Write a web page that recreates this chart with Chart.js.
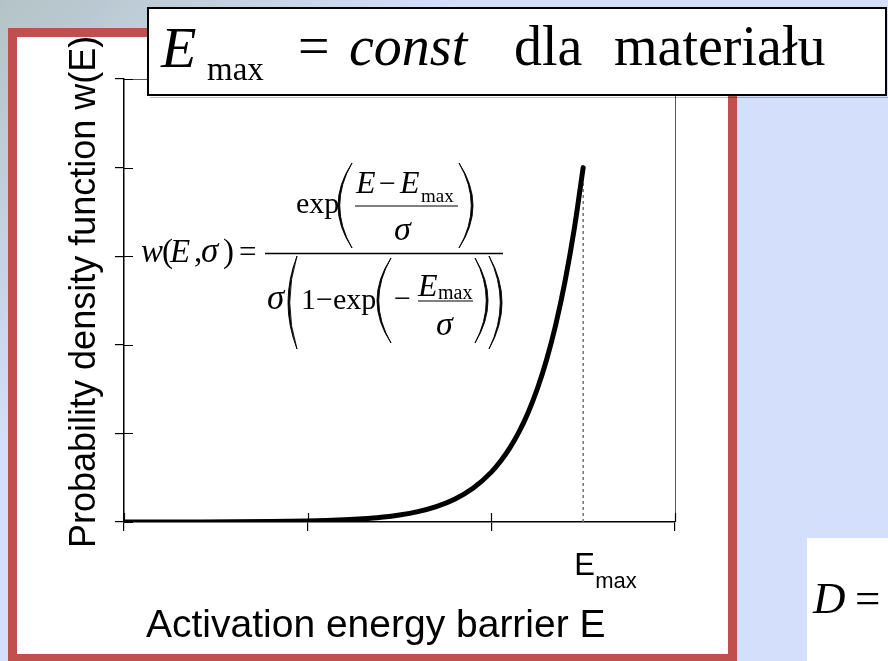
<!DOCTYPE html>
<html>
<head>
<meta charset="utf-8">
<title>Activation energy distribution</title>
<script src="https://cdn.jsdelivr.net/npm/chart.js@4/dist/chart.umd.min.js"></script>
<style>
  html, body { margin: 0; padding: 0; background: #d4dffc; }
  #wrap { position: relative; width: 888px; height: 661px; overflow: hidden; }
  canvas { display: block; }
</style>
</head>
<body>
<div id="wrap"><canvas id="chart" width="888" height="661"></canvas></div>
<script>
// Activation energy barrier E (axis units) and probability density w(E)
const energy  = [0, 0.2, 0.4, 0.6, 0.8, 0.9, 1.0, 1.1, 1.2, 1.3, 1.4, 1.5, 1.6, 1.7, 1.8, 1.9, 2.0, 2.05, 2.1, 2.15, 2.2, 2.25, 2.3, 2.35, 2.4, 2.45, 2.5];
const density = [0.0002, 0.0005, 0.0011, 0.0023, 0.0051, 0.0075, 0.0112, 0.0165, 0.0244, 0.0362, 0.0535, 0.0792, 0.1173, 0.1736, 0.2570, 0.3804, 0.5630, 0.6850, 0.8333, 1.0138, 1.2334, 1.5006, 1.8257, 2.2212, 2.7023, 3.2878, 4.0];

// Cut-off energy and the density reached there
const eMax = 2.5;
const wAtEmax = 4.0;

// Axis tick positions (unlabelled ticks)
const energyTicks  = [0, 1, 2, 3];
const densityTicks = [0, 1, 2, 3, 4, 5];

const SERIF = "'Liberation Serif', 'Times New Roman', serif";
const SANS  = "'Liberation Sans', Arial, sans-serif";

function txt(ctx, s, x, y, size, italic, family) {
  ctx.font = (italic ? 'italic ' : '') + size + 'px ' + (family || SERIF);
  ctx.textAlign = 'left';
  ctx.textBaseline = 'alphabetic';
  ctx.fillText(s, x, y);
}

// Stretched parenthesis drawn as a thin crescent
function paren(ctx, x0, x1, top, bottom, open) {
  const mid = (top + bottom) / 2;
  ctx.beginPath();
  if (open) {
    const c = x0 - (x1 - x0);
    ctx.moveTo(x1, top);
    ctx.quadraticCurveTo(c, mid, x1, bottom);
    ctx.quadraticCurveTo(c + 3.5, mid, x1, top);
  } else {
    const c = x1 + (x1 - x0);
    ctx.moveTo(x0, top);
    ctx.quadraticCurveTo(c, mid, x0, bottom);
    ctx.quadraticCurveTo(c - 3.5, mid, x0, top);
  }
  ctx.fill();
  ctx.lineWidth = 0.9;
  ctx.stroke();
}

function hline(ctx, x0, x1, y, w) {
  ctx.beginPath();
  ctx.lineWidth = w;
  ctx.moveTo(x0, y);
  ctx.lineTo(x1, y);
  ctx.stroke();
}

const slidePlugin = {
  id: 'slide',
  beforeDraw(chart) {
    const ctx = chart.ctx;
    ctx.save();
    const g = ctx.createLinearGradient(0, 0, 230, 230);
    g.addColorStop(0, '#b3c3c5');
    g.addColorStop(1, '#d4dffc');
    ctx.fillStyle = g;
    ctx.fillRect(0, 0, chart.width, chart.height);
    // white panel with red frame
    ctx.fillStyle = '#ffffff';
    ctx.fillRect(12, 32, 721, 630);
    ctx.strokeStyle = '#c0504d';
    ctx.lineWidth = 9;
    ctx.strokeRect(12.5, 32.5, 720, 626);
    ctx.restore();
  },
  beforeDatasetsDraw(chart) {
    const ctx = chart.ctx;
    const a = chart.chartArea;
    const xs = chart.scales.x, ys = chart.scales.y;
    ctx.save();
    // thin top and right frame lines
    ctx.strokeStyle = '#555555';
    ctx.lineWidth = 1;
    ctx.beginPath();
    ctx.moveTo(a.left, a.top + 0.5);
    ctx.lineTo(a.right + 0.5, a.top + 0.5);
    ctx.lineTo(a.right + 0.5, a.bottom);
    ctx.stroke();
    // inner halves of the cross ticks
    ctx.strokeStyle = '#000000';
    ctx.lineWidth = 1.2;
    ctx.beginPath();
    xs.ticks.forEach(t => {
      const px = Math.round(xs.getPixelForValue(t.value)) + 0.5;
      ctx.moveTo(px, a.bottom);
      ctx.lineTo(px, a.bottom - 9);
    });
    ys.ticks.forEach(t => {
      const py = Math.round(ys.getPixelForValue(t.value)) + 0.5;
      ctx.moveTo(a.left, py);
      ctx.lineTo(a.left + 9, py);
    });
    ctx.stroke();
    ctx.restore();
  },
  afterDraw(chart) {
    const ctx = chart.ctx;
    const xs = chart.scales.x;
    ctx.save();
    ctx.fillStyle = '#000000';
    ctx.strokeStyle = '#000000';

    // axis titles
    ctx.save();
    ctx.translate(95, 548);
    ctx.rotate(-Math.PI / 2);
    txt(ctx, 'Probability density function w(E)', 0, 0, 36, false, SANS);
    ctx.restore();
    txt(ctx, 'Activation energy barrier E', 146, 637, 39, false, SANS);

    // E_max label under the cut-off position
    const pxE = xs.getPixelForValue(eMax);
    txt(ctx, 'E', pxE - 9, 575, 31, false, SANS);
    txt(ctx, 'max', pxE + 12, 588, 22, false, SANS);

    // density formula
    txt(ctx, 'w', 141, 262, 33, true);
    txt(ctx, '(', 162, 262, 33, false);
    txt(ctx, 'E', 170, 262, 33, true);
    txt(ctx, ',', 194, 262, 33, false);
    txt(ctx, 'σ', 201, 262, 35, true);
    txt(ctx, ')', 223, 262, 33, false);
    txt(ctx, '=', 239, 262, 31, false);
    hline(ctx, 265, 503, 253.5, 1.3);

    txt(ctx, 'exp', 296, 213, 30, false);
    paren(ctx, 338, 352, 163, 248, true);
    txt(ctx, 'E', 356, 193, 32, true);
    txt(ctx, '−', 379, 193, 30, false);
    txt(ctx, 'E', 400, 193, 32, true);
    txt(ctx, 'max', 421, 202, 19, false);
    hline(ctx, 355, 458, 206, 1.2);
    txt(ctx, 'σ', 394, 240, 34, true);
    paren(ctx, 459, 473, 163, 248, false);

    txt(ctx, 'σ', 267, 309, 35, true);
    paren(ctx, 288, 297, 256, 349, true);
    txt(ctx, '1', 301, 309, 30, false);
    txt(ctx, '−', 316, 309, 30, false);
    txt(ctx, 'exp', 333, 309, 30, false);
    paren(ctx, 377, 391, 258, 343, true);
    txt(ctx, '−', 394, 308, 30, false);
    txt(ctx, 'E', 418, 296, 32, true);
    txt(ctx, 'max', 438, 299, 20, false);
    hline(ctx, 418, 473, 301, 1.2);
    txt(ctx, 'σ', 436, 335, 34, true);
    paren(ctx, 475, 488, 258, 343, false);
    paren(ctx, 489, 502, 256, 349, false);

    // heading box
    ctx.fillStyle = '#ffffff';
    ctx.fillRect(148, 8, 738, 87);
    ctx.strokeStyle = '#000000';
    ctx.lineWidth = 2;
    ctx.strokeRect(148, 8, 738, 87);
    ctx.strokeStyle = 'rgba(0,0,0,0.25)';
    hline(ctx, 150, 888, 97.5, 1);
    ctx.fillStyle = '#000000';
    txt(ctx, 'E', 161, 67, 58, true);
    txt(ctx, 'max', 207, 80, 33, false);
    txt(ctx, '=', 298, 65, 56, false);
    txt(ctx, 'const', 349, 65, 56, true);
    txt(ctx, 'dla', 514, 65, 56, false);
    txt(ctx, 'materiału', 614, 65, 56, false);

    // diffusion formula box at the lower right
    ctx.fillStyle = '#ffffff';
    ctx.fillRect(807, 538, 81, 123);
    ctx.fillStyle = '#000000';
    txt(ctx, 'D', 813, 613, 45, true);
    txt(ctx, '=', 855, 613, 45, false);
    ctx.restore();
  }
};

const curve = energy.map((e, i) => ({ x: e, y: density[i] }));
const cutoff = [{ x: eMax, y: 0 }, { x: eMax, y: wAtEmax }];

new Chart(document.getElementById('chart'), {
  type: 'line',
  data: {
    datasets: [
      {
        data: cutoff,
        borderColor: '#6f6f6f',
        borderWidth: 1.5,
        borderDash: [3, 3],
        pointRadius: 0,
        fill: false,
        order: 2
      },
      {
        data: curve,
        borderColor: '#000000',
        borderWidth: 5,
        borderCapStyle: 'round',
        borderJoinStyle: 'round',
        cubicInterpolationMode: 'monotone',
        pointRadius: 0,
        fill: false,
        order: 1
      }
    ]
  },
  options: {
    responsive: false,
    animation: false,
    events: [],
    layout: { padding: { left: 0, top: 79, right: 213, bottom: 0 } },
    plugins: { legend: { display: false }, tooltip: { enabled: false } },
    scales: {
      x: {
        type: 'linear',
        min: energyTicks[0],
        max: energyTicks[energyTicks.length - 1],
        afterBuildTicks: s => { s.ticks = energyTicks.map(v => ({ value: v })); },
        ticks: { callback: () => '', font: { size: 1 } },
        grid: { drawOnChartArea: false, drawTicks: true, tickLength: 9, color: '#000000', lineWidth: 1.2 },
        border: { display: true, color: '#000000', width: 1.5 },
        afterFit: s => { s.height = 139; }
      },
      y: {
        type: 'linear',
        min: densityTicks[0],
        max: densityTicks[densityTicks.length - 1],
        afterBuildTicks: s => { s.ticks = densityTicks.map(v => ({ value: v })); },
        ticks: { callback: () => '', font: { size: 1 } },
        grid: { drawOnChartArea: false, drawTicks: true, tickLength: 9, color: '#000000', lineWidth: 1.2 },
        border: { display: true, color: '#000000', width: 1.5 },
        afterFit: s => { s.width = 124; }
      }
    }
  },
  plugins: [slidePlugin]
});
</script>
</body>
</html>
